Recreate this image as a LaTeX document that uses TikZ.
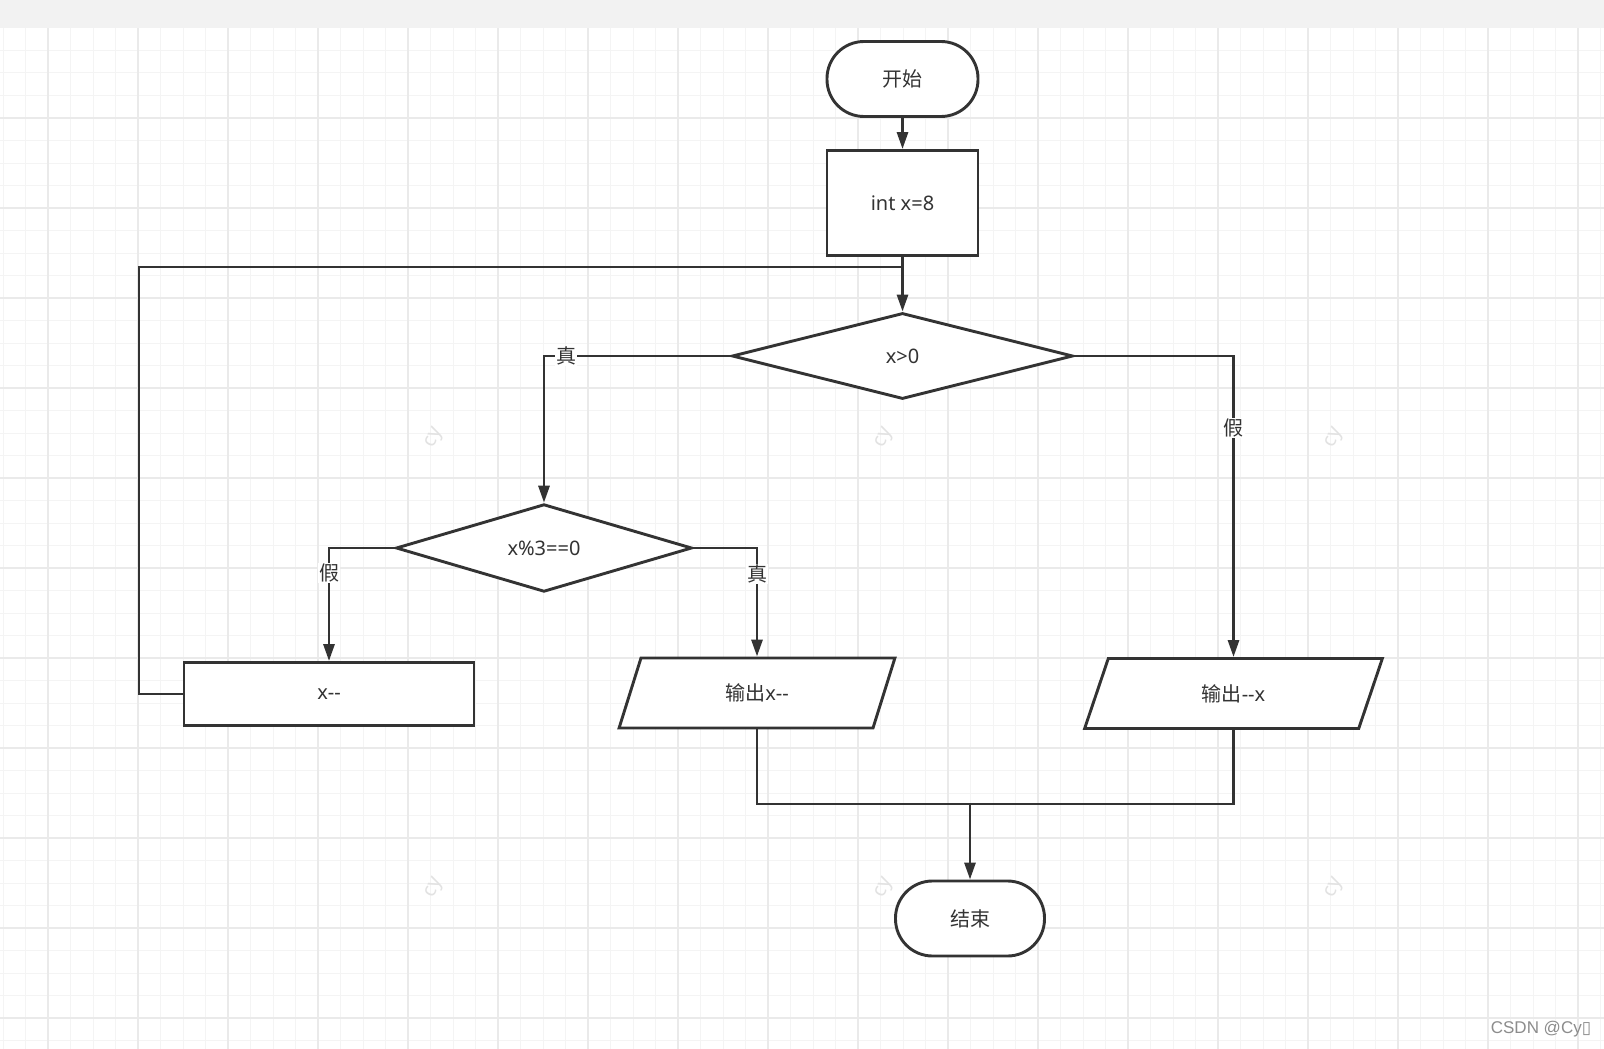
\documentclass[tikz,border=0pt]{standalone}
\usepackage{fontspec}
\setmainfont{Noto Sans}
\newfontfamily\cjk{Noto Sans CJK SC}
\newfontfamily\markfont{Liberation Sans}
\newfontfamily\symfont{DejaVu Sans}
\usetikzlibrary{shapes.geometric,arrows.meta}
\definecolor{ink}{HTML}{333333}
\definecolor{gridminor}{HTML}{F4F4F4}
\definecolor{gridmajor}{HTML}{EAEAEA}
\definecolor{topbar}{HTML}{F2F2F2}
\definecolor{wmgray}{HTML}{E2E2E2}
\tikzset{
  base/.style={draw=ink, line width=2.9pt, fill=white, text=ink, inner sep=0pt,
    font=\fontsize{20}{24}\selectfont},
  terminal/.style={base, rectangle, rounded corners=37pt, minimum width=151pt, minimum height=75pt},
  process/.style={base, rectangle, minimum width=151pt, minimum height=105pt},
  decision/.style={base, diamond, minimum width=#1, minimum height=86pt},
  io/.style={base, trapezium, trapezium left angle=72, trapezium right angle=108,
    trapezium stretches=true, minimum width=#1, minimum height=70pt},
  link/.style={draw=ink, line width=2.9pt},
  flow/.style={link, -{Triangle[length=17pt,width=11pt]}},
  cond/.style={fill=white, text=ink, inner sep=1pt, font=\fontsize{20}{24}\selectfont\cjk},
  wmark/.style={text=wmgray, rotate=65, inner sep=0pt, font=\fontsize{20}{24}\selectfont}
}
\begin{document}
\begin{tikzpicture}[x=1pt, y=-1pt]
	\useasboundingbox (0,0) rectangle (1604,1049);
	\fill[white] (0,0) rectangle (1604,1049);
	\foreach \gx in {3,25.5,...,1604} \draw[gridminor, line width=1pt] (\gx,28) -- (\gx,1049);
	\foreach \gy in {28,50.5,...,1049} \draw[gridminor, line width=1pt] (0,\gy) -- (1604,\gy);
	\foreach \gx in {48,138,...,1604} \draw[gridmajor, line width=1.2pt] (\gx,28) -- (\gx,1049);
	\foreach \gy in {118,208,...,1049} \draw[gridmajor, line width=1.2pt] (0,\gy) -- (1604,\gy);
	\fill[topbar] (0,0) rectangle (1604,28);
	\foreach \wx in {435,885,1335}
		\foreach \wy in {438,888}
			\node[wmark] at (\wx,\wy) {cy};

	\node[terminal] (start) at (902.5,79) {\cjk 开始};
	\node[process] (init) at (902.5,203) {int x=8};
	\node[decision=341pt] (testpos) at (902.5,356) {x>0};
	\node[decision=296pt] (testmod) at (544,548) {x\%3==0};
	\node[base, rectangle, minimum width=290pt, minimum height=63pt] (dec) at (329,694) {x-{}-};
	\node[io=277pt] (outdec) at (757,693) {{\cjk 输出}x-{}-};
	\node[io=299pt] (outneg) at (1233.5,693.5) {{\cjk 输出}-{}-x};
	\node[terminal, minimum width=149pt] (stop) at (970,918.5) {\cjk 结束};
	\coordinate (loopjoin) at (902.5,267);
	\coordinate (merge) at (970,804);

	\draw[flow] (start) -- (init);
	\draw[flow] (init) -- (testpos);
	\draw[link] (dec.west) -| (139,267) -- (loopjoin);
	\draw[flow] (testpos.west) -| node[cond, pos=0.44] {真} (testmod.north);
	\draw[flow] (testpos.east) -| node[cond, pos=0.62] {假} (outneg.north);
	\draw[flow] (testmod.west) -| node[cond, pos=0.61] {假} (dec.north);
	\draw[flow] (testmod.east) -| node[cond, pos=0.62] {真} (outdec.north);
	\draw[link] (outdec.south) |- (merge);
	\draw[link] (outneg.south) |- (merge);
	\draw[flow] (merge) -- (stop);

	\node[text=black!45, font=\fontsize{17}{20}\selectfont\markfont] (credit) at (1541,1029) {CSDN @Cy{\symfont ▯}};
\end{tikzpicture}
\end{document}
